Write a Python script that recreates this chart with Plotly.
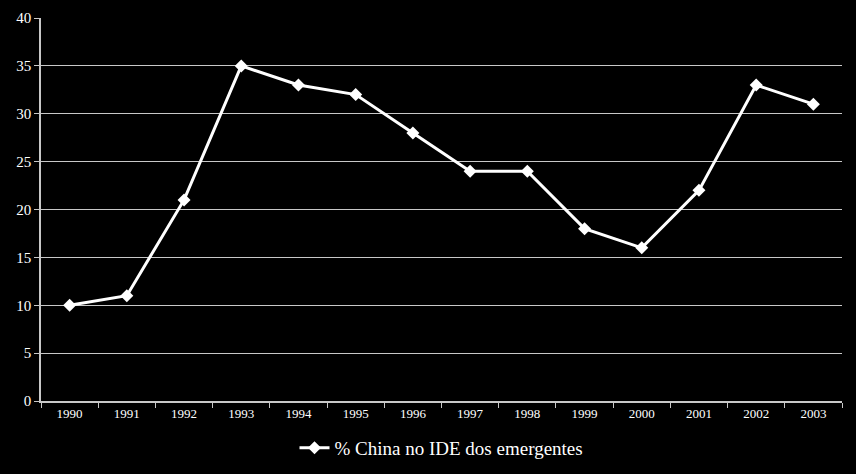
import plotly.graph_objects as go

# data
years = [str(y) for y in range(1990, 2004)]
share = [10, 11, 21, 35, 33, 32, 28, 24, 24, 18, 16, 22, 33, 31]
y_ticks = [0, 5, 10, 15, 20, 25, 30, 35, 40]

fig = go.Figure()
fig.add_trace(go.Scatter(
    x=years, y=share,
    mode="lines+markers",
    name="% China no IDE dos emergentes",
    line=dict(color="white", width=3),
    marker=dict(symbol="diamond", size=10, color="white"),
))

fig.update_layout(
    width=856, height=474,
    paper_bgcolor="black", plot_bgcolor="black",
    margin=dict(l=41, r=14, t=18, b=73, autoexpand=False),
    font=dict(family="Liberation Serif, DejaVu Serif, serif", color="white", size=12),
    showlegend=True,
    legend=dict(orientation="h", x=0.5, xanchor="center",
                yref="container", y=0.055, yanchor="middle",
                font=dict(size=19), bgcolor="rgba(0,0,0,0)"),
    xaxis=dict(
        type="category", range=[-0.5, len(years) - 0.5], showgrid=False,
        showline=True, linecolor="#c8c8c8", linewidth=1.5,
        ticks="outside", tickson="boundaries", ticklen=5, tickcolor="#c8c8c8",
        tickfont=dict(size=13), automargin=False,
    ),
    yaxis=dict(
        range=[0, 40], tickvals=y_ticks, showgrid=True, gridcolor="#c8c8c8", gridwidth=1,
        showline=True, linecolor="#c8c8c8", linewidth=1.5,
        ticks="outside", ticklen=5, tickcolor="#c8c8c8",
        zeroline=False, tickfont=dict(size=15), automargin=False,
    ),
)

fig.write_html(
    "out.html",
    config={"displayModeBar": False},
    post_script="document.body.style.margin='0';document.body.style.background='black';",
)
